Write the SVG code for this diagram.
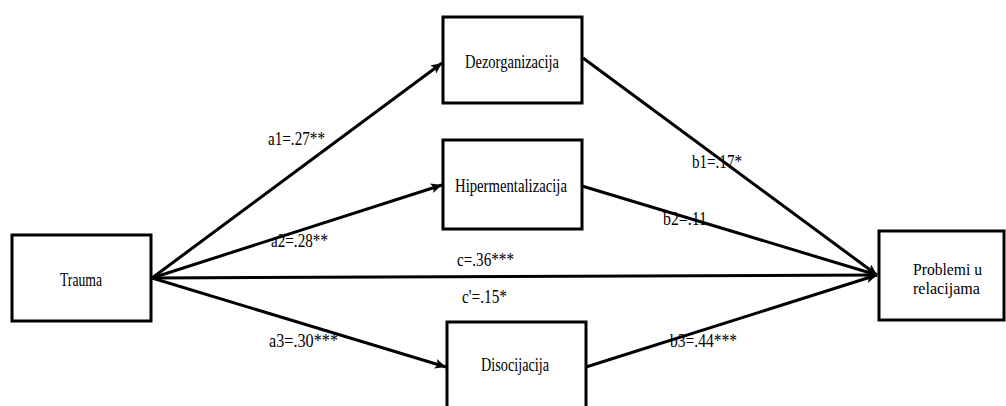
<svg xmlns="http://www.w3.org/2000/svg" width="1006" height="406" viewBox="0 0 1006 406">
  <style>
    .box { fill: #ffffff; stroke: #000000; stroke-width: 3; }
    .edge { stroke: #000000; stroke-width: 3; fill: none; marker-end: url(#arrow); }
    .node-label { font-family: "Liberation Serif", "Times New Roman", serif; font-size: 19px; fill: #000000; }
    .node-label.small { font-size: 16px; }
    .edge-label { font-family: "Liberation Serif", "Times New Roman", serif; font-size: 18px; fill: #000000; }
  </style>
  <defs>
    <marker id="arrow" markerUnits="userSpaceOnUse" markerWidth="14" markerHeight="12" refX="11" refY="5" orient="auto">
      <path d="M0,0 L11,5 L0,10 L2.5,5 Z" fill="#000000"/>
    </marker>
  </defs>
  <rect width="1006" height="406" fill="#ffffff"/>

  <!-- connectors: paths from Trauma through the mediators to the outcome -->
  <g id="connectors">
    <line class="edge" x1="152" y1="278" x2="442" y2="63"/>
    <line class="edge" x1="152" y1="278" x2="442" y2="185"/>
    <line class="edge" x1="152" y1="278" x2="877" y2="275"/>
    <line class="edge" x1="152" y1="278" x2="446" y2="367"/>
    <line class="edge" x1="583" y1="58" x2="877" y2="275"/>
    <line class="edge" x1="582" y1="186" x2="877" y2="275"/>
    <line class="edge" x1="586" y1="367" x2="877" y2="275"/>
    <text class="edge-label" x="268" y="145" textLength="57" lengthAdjust="spacingAndGlyphs">a1=.27**</text>
    <text class="edge-label" x="271" y="247" textLength="57" lengthAdjust="spacingAndGlyphs">a2=.28**</text>
    <text class="edge-label" x="269" y="347" textLength="69" lengthAdjust="spacingAndGlyphs">a3=.30***</text>
    <text class="edge-label" x="692" y="168" textLength="50" lengthAdjust="spacingAndGlyphs">b1=.17*</text>
    <text class="edge-label" x="663" y="225" textLength="44" lengthAdjust="spacingAndGlyphs">b2=.11</text>
    <text class="edge-label" x="670" y="347" textLength="67" lengthAdjust="spacingAndGlyphs">b3=.44***</text>
    <text class="edge-label" x="457" y="266" textLength="57" lengthAdjust="spacingAndGlyphs">c=.36***</text>
    <text class="edge-label" x="462" y="303" textLength="45" lengthAdjust="spacingAndGlyphs">c'=.15*</text>
  </g>

  <g id="trauma">
    <rect class="box" x="12" y="235" width="139" height="86"/>
    <text class="node-label" x="60" y="286" textLength="42" lengthAdjust="spacingAndGlyphs">Trauma</text>
  </g>
  <g id="dezorganizacija">
    <rect class="box" x="443" y="17" width="139" height="86"/>
    <text class="node-label" x="465" y="68" textLength="94" lengthAdjust="spacingAndGlyphs">Dezorganizacija</text>
  </g>
  <g id="hipermentalizacija">
    <rect class="box" x="443" y="140" width="139" height="89"/>
    <text class="node-label" x="455" y="192" textLength="112" lengthAdjust="spacingAndGlyphs">Hipermentalizacija</text>
  </g>
  <g id="disocijacija">
    <rect class="box" x="447" y="322" width="139" height="100"/>
    <text class="node-label" x="481" y="371" textLength="68" lengthAdjust="spacingAndGlyphs">Disocijacija</text>
  </g>
  <g id="problemi">
    <rect class="box" x="879" y="231" width="125" height="89"/>
    <text class="node-label small" x="913" y="275" textLength="69" lengthAdjust="spacingAndGlyphs">Problemi  u</text>
    <text class="node-label small" x="913" y="294" textLength="67" lengthAdjust="spacingAndGlyphs">relacijama</text>
  </g>
</svg>
